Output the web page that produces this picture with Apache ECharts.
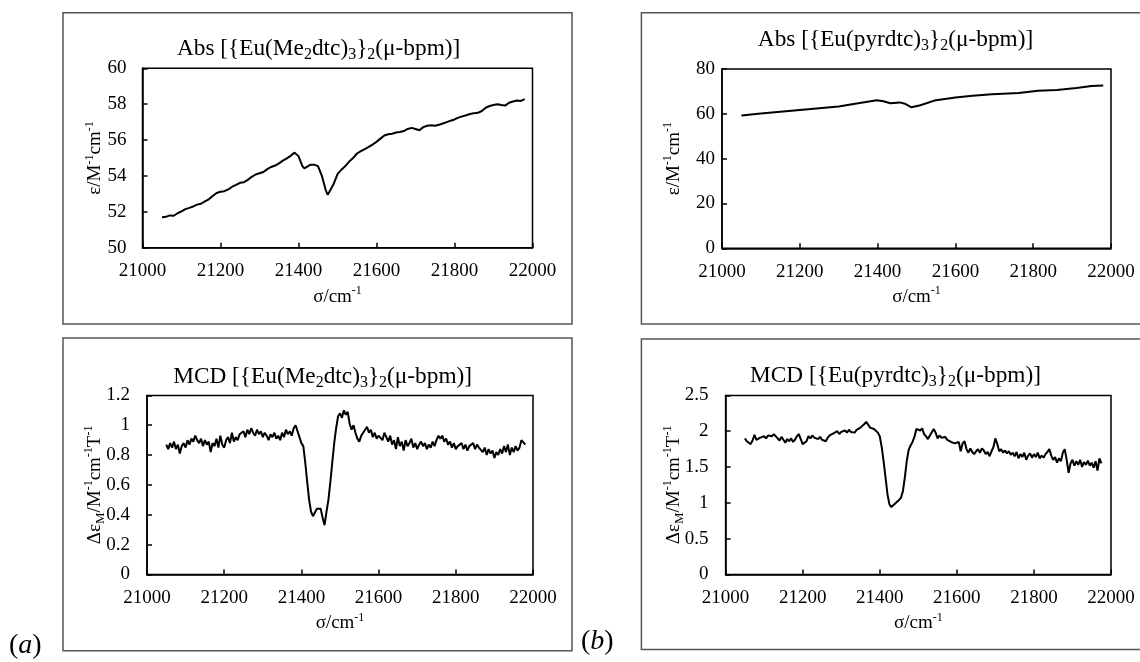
<!DOCTYPE html>
<html><head><meta charset="utf-8">
<script src="https://cdn.jsdelivr.net/npm/echarts/dist/echarts.min.js"></script>
<style>html,body{margin:0;padding:0;background:#fff}#c{width:1140px;height:662px}</style>
</head><body><div id="c"></div>
<script>
// ---------- DATA ----------
const xTicks = [21000, 21200, 21400, 21600, 21800, 22000];
const yTicksA = [50, 52, 54, 56, 58, 60];
const yTicksB = [0, 20, 40, 60, 80];
const yTicksC = [0, 0.2, 0.4, 0.6, 0.8, 1, 1.2];
const yTicksD = [0, 0.5, 1, 1.5, 2, 2.5];

// (a) Abs [{Eu(Me2dtc)3}2(mu-bpm)]
const absMeX = [21050,21060,21070,21080,21090,21100,21110,21120,21130,21140,21150,21160,21170,21180,21190,21200,21210,21220,21230,21240,21250,21260,21270,21280,21290,21300,21310,21320,21330,21340,21350,21360,21370,21380,21390,21395,21400,21410,21415,21420,21430,21440,21450,21460,21470,21475,21480,21490,21500,21510,21520,21530,21540,21550,21560,21570,21580,21590,21600,21610,21620,21630,21640,21650,21660,21670,21680,21690,21700,21710,21720,21730,21740,21750,21760,21770,21780,21790,21800,21810,21820,21830,21840,21850,21860,21870,21880,21890,21900,21910,21920,21930,21940,21950,21960,21970,21980];
const absMeY = [51.70,51.72,51.80,51.78,51.92,52.02,52.15,52.22,52.30,52.40,52.45,52.58,52.70,52.88,53.05,53.12,53.15,53.25,53.40,53.50,53.62,53.65,53.78,53.95,54.08,54.15,54.22,54.38,54.50,54.58,54.70,54.85,54.98,55.12,55.30,55.32,55.10,54.55,54.42,54.45,54.62,54.63,54.55,54.00,53.20,52.95,52.98,53.55,54.10,54.35,54.55,54.80,55.00,55.25,55.38,55.50,55.62,55.75,55.90,56.08,56.25,56.32,56.35,56.42,56.45,56.50,56.62,56.68,56.62,56.55,56.72,56.80,56.82,56.80,56.85,56.92,57.00,57.08,57.15,57.25,57.32,57.38,57.45,57.50,57.52,57.62,57.80,57.90,57.95,58.00,57.95,57.92,58.08,58.15,58.20,58.18,58.28];

// (b) Abs [{Eu(pyrdtc)3}2(mu-bpm)]
const absPyX = [21050,21100,21200,21300,21350,21398,21415,21433,21457,21470,21487,21510,21546,21600,21644,21694,21763,21812,21861,21911,21950,21980];
const absPyY = [59.2,60.1,61.7,63.3,64.7,66.1,65.6,64.7,65.1,64.5,62.9,63.8,65.9,67.3,68.1,68.7,69.3,70.3,70.6,71.5,72.4,72.6];

// (a) MCD [{Eu(Me2dtc)3}2(mu-bpm)]
const mcdMeX0 = 21050, mcdMeStep = 5;
const mcdMeY = [0.87,0.84,0.88,0.85,0.89,0.84,0.87,0.81,0.86,0.88,0.85,0.90,0.87,0.91,0.89,0.93,0.90,0.88,0.91,0.86,0.90,0.87,0.89,0.82,0.88,0.86,0.91,0.85,0.93,0.87,0.85,0.90,0.92,0.88,0.95,0.89,0.92,0.90,0.94,0.93,0.96,0.92,0.97,0.94,0.98,0.95,0.93,0.97,0.94,0.96,0.92,0.95,0.93,0.90,0.94,0.92,0.95,0.91,0.93,0.90,0.95,0.92,0.97,0.94,0.96,0.93,0.98,1.00,0.96,0.92,0.88,0.86,0.75,0.62,0.50,0.42,0.39,0.38,0.44,0.45,0.44,0.38,0.33,0.42,0.50,0.62,0.75,0.88,0.98,1.06,1.08,1.05,1.10,1.07,1.09,1.01,0.97,1.00,0.95,0.91,0.89,0.93,0.92,0.97,0.99,0.95,0.97,0.92,0.95,0.91,0.93,0.94,0.90,0.95,0.92,0.89,0.93,0.87,0.90,0.84,0.92,0.86,0.89,0.83,0.90,0.86,0.88,0.91,0.85,0.88,0.84,0.87,0.89,0.86,0.88,0.84,0.87,0.85,0.89,0.86,0.90,0.93,0.91,0.93,0.89,0.91,0.87,0.89,0.85,0.88,0.84,0.86,0.85,0.88,0.84,0.87,0.83,0.86,0.85,0.88,0.84,0.87,0.85,0.86,0.82,0.85,0.80,0.84,0.81,0.83,0.78,0.82,0.80,0.84,0.81,0.86,0.82,0.87,0.80,0.85,0.82,0.86,0.83,0.85,0.90,0.91,0.87];

// (b) MCD [{Eu(pyrdtc)3}2(mu-bpm)]
const mcdPyX0 = 21050, mcdPyStep = 5;
const mcdPyY = [1.90,1.86,1.88,1.82,1.87,1.95,1.88,1.86,1.91,1.89,1.93,1.90,1.94,1.92,1.93,1.96,1.98,1.90,1.87,1.92,1.88,1.84,1.89,1.86,1.90,1.85,1.88,1.93,1.96,1.89,1.82,1.80,1.86,1.93,1.90,1.94,1.91,1.93,1.89,1.92,1.88,1.90,1.86,1.91,1.94,1.92,1.97,1.95,2.00,1.96,1.99,1.97,2.01,1.98,2.02,1.99,2.01,1.98,2.02,2.00,2.05,2.03,2.10,2.13,2.09,2.05,2.07,2.03,2.01,1.98,1.93,1.78,1.58,1.35,1.12,0.98,0.94,0.93,0.99,1.01,1.04,1.07,1.16,1.35,1.58,1.74,1.80,1.85,1.92,2.03,2.04,2.01,2.04,1.96,1.93,1.89,1.94,1.96,2.03,1.98,1.90,1.94,1.91,1.93,1.92,1.88,1.90,1.85,1.87,1.83,1.82,1.85,1.72,1.83,1.86,1.75,1.70,1.76,1.71,1.68,1.72,1.75,1.70,1.76,1.73,1.68,1.71,1.65,1.72,1.78,1.90,1.82,1.72,1.75,1.70,1.73,1.69,1.72,1.67,1.70,1.65,1.71,1.62,1.68,1.64,1.70,1.60,1.66,1.69,1.63,1.68,1.64,1.70,1.62,1.66,1.63,1.68,1.71,1.75,1.66,1.60,1.64,1.56,1.62,1.58,1.70,1.75,1.60,1.42,1.55,1.60,1.52,1.58,1.53,1.60,1.50,1.57,1.53,1.59,1.52,1.56,1.49,1.58,1.45,1.62,1.55];

// ---------- BUILD ----------
const FONT = "'Liberation Serif','Times New Roman',serif";
const pairs = (xs, ys) => ys.map((y, i) => [xs[i], y]);
const regular = (x0, step, ys) => ys.map((y, i) => [x0 + i * step, y]);

const richSmall = {
  sp: {fontSize: 12, fontFamily: FONT, color: '#000', verticalAlign: 'top', lineHeight: 12},
  sb: {fontSize: 13, fontFamily: FONT, color: '#000', verticalAlign: 'bottom', lineHeight: 13}
};
const nameStyle = {fontFamily: FONT, fontSize: 19, color: '#000', lineHeight: 24, rich: richSmall};
const labelStyle = {fontFamily: FONT, fontSize: 19, color: '#000'};
const fmt = v => String(+(+v).toFixed(2));

const grids = [
  {left: 142.5, top: 68.3, width: 390, height: 179.4},
  {left: 722, top: 69, width: 389, height: 179.3},
  {left: 147, top: 395.4, width: 386, height: 179},
  {left: 725.6, top: 395.4, width: 385.4, height: 179}
].map(g => Object.assign({show: true, borderColor: '#000', borderWidth: 1.5, containLabel: false}, g));

const yT = [yTicksA, yTicksB, yTicksC, yTicksD];
const yNames = ['ε/M{sp|-1}cm{sp|-1}', 'ε/M{sp|-1}cm{sp|-1}', 'Δε{sb|M}/M{sp|-1}cm{sp|-1}T{sp|-1}', 'Δε{sb|M}/M{sp|-1}cm{sp|-1}T{sp|-1}'];
const yLabelMargin = [16, 7, 17, 17];
const yNameGap = [35, 36, 40, 40];

const xAxes = grids.map((g, i) => ({
  type: 'value', gridIndex: i, min: xTicks[0], max: xTicks[xTicks.length - 1], interval: xTicks[1] - xTicks[0],
  name: 'σ/cm{sp|-1}', nameLocation: 'middle', nameGap: 37, nameTextStyle: nameStyle, nameMoveOverlap: false,
  axisLine: {show: true, lineStyle: {color: '#000', width: 1.5}},
  axisTick: {show: true, inside: true, length: 5, lineStyle: {color: '#000', width: 1.5}},
  axisLabel: Object.assign({margin: 14, formatter: v => String(v)}, labelStyle),
  splitLine: {show: false}
}));
const yAxes = grids.map((g, i) => ({
  type: 'value', gridIndex: i, min: yT[i][0], max: yT[i][yT[i].length - 1], interval: yT[i][1] - yT[i][0],
  name: yNames[i], nameLocation: 'middle', nameRotate: 90, nameGap: yNameGap[i], nameTextStyle: nameStyle, nameMoveOverlap: false,
  axisLine: {show: true, lineStyle: {color: '#000', width: 1.5}},
  axisTick: {show: true, inside: true, length: 5, lineStyle: {color: '#000', width: 1.5}},
  axisLabel: Object.assign({margin: yLabelMargin[i], formatter: fmt}, labelStyle),
  splitLine: {show: false}
}));

const lineSeries = (i, data) => ({
  type: 'line', xAxisIndex: i, yAxisIndex: i, data, showSymbol: false, symbol: 'none',
  lineStyle: {color: '#000', width: 2}, silent: true
});

const titleRich = {sb: {fontSize: 16, fontFamily: FONT, fill: '#000', verticalAlign: 'bottom', lineHeight: 16}};
const mkTitle = (txt, x, y) => ({
  type: 'text', x, y, silent: true,
  style: {text: txt, fontFamily: FONT, fontSize: 23.3, lineHeight: 28, fill: '#000', align: 'center', verticalAlign: 'middle', rich: titleRich}
});
const box = (x, y, w, h) => ({type: 'rect', shape: {x, y, width: w, height: h}, style: {fill: null, stroke: '#555', lineWidth: 1.5}, silent: true});
const panelLabel = (letter, x, y) => ({
  type: 'text', x, y, silent: true,
  style: {text: '({it|' + letter + '})', fontFamily: FONT, fontSize: 28, fill: '#000', align: 'left', verticalAlign: 'middle',
    rich: {it: {fontFamily: FONT, fontSize: 28, fontStyle: 'italic', fill: '#000'}}}
});

const chart = echarts.init(document.getElementById('c'), null, {renderer: 'canvas'});
chart.setOption({
  animation: false,
  backgroundColor: '#fff',
  grid: grids,
  xAxis: xAxes,
  yAxis: yAxes,
  series: [
    lineSeries(0, pairs(absMeX, absMeY)),
    lineSeries(1, pairs(absPyX, absPyY)),
    lineSeries(2, regular(mcdMeX0, mcdMeStep, mcdMeY)),
    lineSeries(3, regular(mcdPyX0, mcdPyStep, mcdPyY))
  ],
  graphic: [
    box(63, 12.7, 509, 311.3),
    box(641.4, 12.7, 520, 311.3),
    box(63, 338, 509, 312.7),
    box(641.4, 339, 520, 310.6),
    mkTitle('Abs [{Eu(Me{sb|2}dtc){sb|3}}{sb|2}(μ-bpm)]', 318.6, 48.5),
    mkTitle('Abs [{Eu(pyrdtc){sb|3}}{sb|2}(μ-bpm)]', 895.5, 40),
    mkTitle('MCD [{Eu(Me{sb|2}dtc){sb|3}}{sb|2}(μ-bpm)]', 322.6, 377),
    mkTitle('MCD [{Eu(pyrdtc){sb|3}}{sb|2}(μ-bpm)]', 895.5, 376),
    panelLabel('a', 9, 646),
    panelLabel('b', 581, 642)
  ]
});
</script></body></html>
